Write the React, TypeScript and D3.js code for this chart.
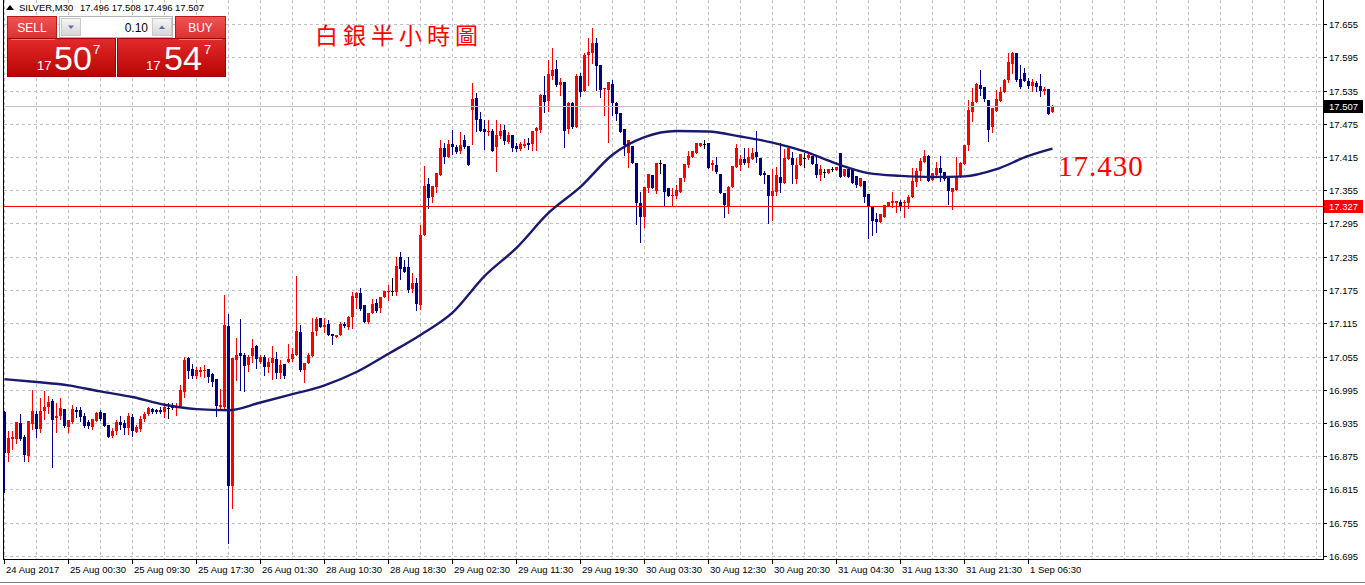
import { useEffect } from "react";
import * as d3 from "d3";

const WIDTH = 1365;
const HEIGHT = 585;
const AXIS_X = 1323;
const FRAME_BOTTOM = 559;
const AXIS_FONT = "Liberation Sans, Arial, sans-serif";

// SILVER M30 bars (oldest first)
const opens = [
  16.955, 16.881, 16.906, 16.906, 16.935, 16.910, 16.876, 16.933, 16.951, 16.924,
  16.957, 16.964, 16.975, 16.944, 16.948, 16.960, 16.928, 16.937, 16.958, 16.958,
  16.948, 16.937, 16.928, 16.939, 16.955, 16.953, 16.931, 16.912, 16.921, 16.937,
  16.935, 16.926, 16.946, 16.919, 16.924, 16.942, 16.951, 16.960, 16.958, 16.958,
  16.955, 16.962, 16.968, 16.962, 16.966, 16.991, 17.052, 17.032, 17.020, 17.027,
  17.029, 17.032, 17.023, 17.014, 16.964, 16.964, 17.110, 16.821, 17.049, 17.061,
  17.058, 17.040, 17.056, 17.074, 17.045, 17.054, 17.036, 17.043, 17.050, 17.025,
  17.041, 17.045, 17.050, 17.058, 17.099, 17.031, 17.043, 17.056, 17.101, 17.125,
  17.108, 17.114, 17.096, 17.090, 17.094, 17.114, 17.108, 17.126, 17.161, 17.170,
  17.148, 17.117, 17.134, 17.152, 17.143, 17.162, 17.171, 17.173, 17.171, 17.235,
  17.217, 17.217, 17.177, 17.188, 17.148, 17.274, 17.366, 17.343, 17.361, 17.383,
  17.431, 17.415, 17.439, 17.433, 17.426, 17.446, 17.435, 17.500, 17.522, 17.484,
  17.466, 17.460, 17.462, 17.433, 17.453, 17.464, 17.442, 17.455, 17.435, 17.429,
  17.435, 17.440, 17.439, 17.462, 17.464, 17.527, 17.516, 17.561, 17.574, 17.545,
  17.550, 17.466, 17.512, 17.469, 17.561, 17.534, 17.599, 17.603, 17.621, 17.581,
  17.538, 17.536, 17.547, 17.512, 17.494, 17.466, 17.422, 17.435, 17.404, 17.332,
  17.307, 17.359, 17.383, 17.354, 17.404, 17.402, 17.359, 17.345, 17.345, 17.352,
  17.377, 17.401, 17.415, 17.422, 17.435, 17.439, 17.440, 17.401, 17.401, 17.384,
  17.350, 17.327, 17.361, 17.397, 17.401, 17.411, 17.404, 17.411, 17.424, 17.413,
  17.386, 17.383, 17.345, 17.352, 17.379, 17.368, 17.411, 17.413, 17.375, 17.401,
  17.413, 17.413, 17.417, 17.402, 17.383, 17.388, 17.386, 17.393, 17.392, 17.422,
  17.381, 17.393, 17.392, 17.381, 17.363, 17.372, 17.348, 17.327, 17.303, 17.298,
  17.307, 17.327, 17.332, 17.332, 17.334, 17.332, 17.332, 17.343, 17.370, 17.390,
  17.406, 17.417, 17.374, 17.383, 17.395, 17.388, 17.377, 17.352, 17.355, 17.379,
  17.402, 17.437, 17.496, 17.514, 17.545, 17.541, 17.518, 17.469, 17.498, 17.516,
  17.532, 17.554, 17.583, 17.603, 17.556, 17.567, 17.552, 17.543, 17.549, 17.543,
  17.534, 17.538, 17.496,
];
const highs = [
  16.957, 16.921, 16.921, 16.937, 16.951, 16.913, 16.939, 16.995, 16.957, 16.980,
  16.993, 16.984, 16.978, 16.971, 16.980, 16.960, 16.940, 16.968, 16.964, 16.964,
  16.953, 16.940, 16.942, 16.955, 16.958, 16.953, 16.931, 16.926, 16.940, 16.948,
  16.940, 16.953, 16.951, 16.931, 16.948, 16.955, 16.964, 16.962, 16.960, 16.964,
  16.971, 16.971, 16.971, 16.971, 17.004, 17.054, 17.054, 17.041, 17.036, 17.036,
  17.040, 17.032, 17.025, 17.014, 16.996, 17.166, 17.132, 17.052, 17.088, 17.123,
  17.061, 17.058, 17.087, 17.076, 17.058, 17.058, 17.052, 17.074, 17.063, 17.049,
  17.041, 17.078, 17.070, 17.200, 17.112, 17.043, 17.061, 17.125, 17.126, 17.125,
  17.125, 17.121, 17.096, 17.094, 17.117, 17.117, 17.128, 17.171, 17.171, 17.179,
  17.148, 17.134, 17.159, 17.159, 17.162, 17.173, 17.184, 17.197, 17.235, 17.244,
  17.229, 17.235, 17.206, 17.197, 17.292, 17.399, 17.377, 17.363, 17.386, 17.446,
  17.440, 17.446, 17.464, 17.437, 17.460, 17.455, 17.435, 17.549, 17.531, 17.496,
  17.482, 17.482, 17.466, 17.482, 17.475, 17.473, 17.460, 17.455, 17.440, 17.442,
  17.448, 17.449, 17.462, 17.469, 17.529, 17.561, 17.590, 17.612, 17.590, 17.558,
  17.550, 17.514, 17.514, 17.565, 17.567, 17.603, 17.630, 17.648, 17.630, 17.581,
  17.540, 17.550, 17.554, 17.514, 17.494, 17.466, 17.446, 17.435, 17.404, 17.352,
  17.361, 17.384, 17.383, 17.404, 17.410, 17.402, 17.359, 17.359, 17.365, 17.377,
  17.402, 17.426, 17.426, 17.440, 17.440, 17.446, 17.440, 17.410, 17.415, 17.384,
  17.350, 17.363, 17.399, 17.439, 17.419, 17.431, 17.431, 17.431, 17.462, 17.413,
  17.390, 17.383, 17.393, 17.397, 17.440, 17.429, 17.431, 17.424, 17.413, 17.420,
  17.422, 17.424, 17.417, 17.415, 17.401, 17.393, 17.393, 17.397, 17.397, 17.422,
  17.393, 17.393, 17.392, 17.381, 17.377, 17.372, 17.348, 17.327, 17.314, 17.312,
  17.328, 17.334, 17.352, 17.336, 17.337, 17.337, 17.346, 17.395, 17.395, 17.413,
  17.428, 17.419, 17.386, 17.406, 17.417, 17.388, 17.377, 17.359, 17.415, 17.406,
  17.437, 17.518, 17.540, 17.549, 17.572, 17.541, 17.518, 17.503, 17.536, 17.541,
  17.556, 17.603, 17.604, 17.603, 17.581, 17.576, 17.558, 17.556, 17.552, 17.565,
  17.541, 17.538, 17.508,
];
const lows = [
  16.811, 16.866, 16.888, 16.899, 16.904, 16.866, 16.866, 16.924, 16.910, 16.919,
  16.942, 16.953, 16.856, 16.919, 16.942, 16.928, 16.919, 16.935, 16.946, 16.939,
  16.928, 16.926, 16.924, 16.939, 16.940, 16.930, 16.909, 16.909, 16.915, 16.924,
  16.915, 16.915, 16.912, 16.919, 16.921, 16.939, 16.950, 16.953, 16.953, 16.953,
  16.946, 16.944, 16.960, 16.950, 16.964, 16.982, 17.016, 17.016, 17.016, 17.020,
  17.018, 17.009, 17.002, 16.948, 16.958, 16.958, 16.718, 16.782, 17.013, 16.995,
  16.993, 17.029, 17.045, 17.034, 17.043, 17.022, 17.027, 17.014, 17.016, 17.016,
  17.016, 17.045, 17.047, 17.058, 17.029, 17.009, 17.043, 17.056, 17.094, 17.108,
  17.099, 17.094, 17.078, 17.090, 17.094, 17.108, 17.105, 17.106, 17.143, 17.139,
  17.117, 17.115, 17.134, 17.135, 17.135, 17.162, 17.157, 17.166, 17.166, 17.195,
  17.208, 17.171, 17.171, 17.139, 17.141, 17.274, 17.323, 17.334, 17.352, 17.383,
  17.404, 17.415, 17.420, 17.422, 17.422, 17.432, 17.401, 17.439, 17.462, 17.462,
  17.429, 17.455, 17.426, 17.390, 17.449, 17.439, 17.440, 17.426, 17.426, 17.428,
  17.433, 17.429, 17.428, 17.428, 17.460, 17.496, 17.498, 17.556, 17.543, 17.527,
  17.433, 17.458, 17.467, 17.469, 17.525, 17.534, 17.545, 17.585, 17.536, 17.523,
  17.491, 17.442, 17.491, 17.482, 17.460, 17.419, 17.397, 17.404, 17.294, 17.262,
  17.289, 17.352, 17.359, 17.350, 17.386, 17.328, 17.345, 17.328, 17.341, 17.352,
  17.372, 17.397, 17.415, 17.422, 17.435, 17.431, 17.395, 17.392, 17.386, 17.350,
  17.307, 17.314, 17.361, 17.397, 17.392, 17.402, 17.397, 17.411, 17.406, 17.383,
  17.368, 17.296, 17.301, 17.346, 17.352, 17.368, 17.411, 17.368, 17.368, 17.401,
  17.397, 17.411, 17.402, 17.379, 17.374, 17.379, 17.386, 17.389, 17.392, 17.379,
  17.381, 17.379, 17.368, 17.361, 17.363, 17.334, 17.269, 17.274, 17.280, 17.298,
  17.307, 17.327, 17.325, 17.316, 17.319, 17.307, 17.323, 17.343, 17.363, 17.374,
  17.406, 17.372, 17.374, 17.383, 17.372, 17.374, 17.330, 17.321, 17.355, 17.379,
  17.402, 17.428, 17.480, 17.514, 17.527, 17.516, 17.444, 17.460, 17.498, 17.516,
  17.532, 17.550, 17.567, 17.552, 17.540, 17.552, 17.540, 17.534, 17.534, 17.525,
  17.529, 17.493, 17.496,
];
const closes = [
  16.881, 16.908, 16.910, 16.937, 16.906, 16.877, 16.939, 16.957, 16.924, 16.957,
  16.964, 16.973, 16.940, 16.948, 16.962, 16.930, 16.940, 16.960, 16.955, 16.946,
  16.930, 16.930, 16.942, 16.953, 16.942, 16.930, 16.910, 16.921, 16.937, 16.931,
  16.926, 16.948, 16.921, 16.928, 16.942, 16.951, 16.962, 16.955, 16.955, 16.955,
  16.964, 16.962, 16.962, 16.966, 16.995, 17.049, 17.029, 17.020, 17.031, 17.031,
  17.031, 17.018, 17.009, 16.966, 16.968, 17.112, 16.821, 17.052, 17.058, 17.056,
  17.038, 17.054, 17.070, 17.050, 17.054, 17.036, 17.045, 17.052, 17.025, 17.040,
  17.020, 17.050, 17.059, 17.101, 17.031, 17.043, 17.058, 17.099, 17.123, 17.108,
  17.112, 17.094, 17.092, 17.094, 17.114, 17.110, 17.126, 17.164, 17.170, 17.141,
  17.117, 17.134, 17.150, 17.137, 17.162, 17.173, 17.173, 17.173, 17.218, 17.213,
  17.208, 17.175, 17.188, 17.150, 17.274, 17.363, 17.341, 17.363, 17.386, 17.431,
  17.415, 17.439, 17.433, 17.424, 17.437, 17.433, 17.401, 17.520, 17.482, 17.462,
  17.460, 17.462, 17.426, 17.455, 17.462, 17.444, 17.455, 17.431, 17.429, 17.439,
  17.439, 17.437, 17.462, 17.467, 17.527, 17.514, 17.565, 17.572, 17.545, 17.550,
  17.462, 17.512, 17.469, 17.561, 17.532, 17.599, 17.604, 17.621, 17.579, 17.536,
  17.540, 17.550, 17.512, 17.493, 17.460, 17.437, 17.446, 17.404, 17.332, 17.307,
  17.361, 17.384, 17.359, 17.404, 17.404, 17.352, 17.345, 17.347, 17.355, 17.377,
  17.402, 17.417, 17.426, 17.440, 17.440, 17.439, 17.395, 17.404, 17.388, 17.350,
  17.328, 17.361, 17.399, 17.431, 17.411, 17.404, 17.415, 17.422, 17.415, 17.383,
  17.383, 17.345, 17.354, 17.383, 17.368, 17.413, 17.431, 17.401, 17.401, 17.420,
  17.413, 17.419, 17.402, 17.383, 17.393, 17.388, 17.393, 17.393, 17.397, 17.379,
  17.393, 17.379, 17.368, 17.365, 17.377, 17.343, 17.325, 17.300, 17.298, 17.312,
  17.328, 17.334, 17.336, 17.336, 17.327, 17.334, 17.343, 17.372, 17.390, 17.408,
  17.417, 17.372, 17.386, 17.395, 17.386, 17.375, 17.354, 17.359, 17.379, 17.404,
  17.437, 17.500, 17.514, 17.547, 17.538, 17.520, 17.464, 17.503, 17.520, 17.532,
  17.554, 17.587, 17.603, 17.554, 17.541, 17.552, 17.543, 17.550, 17.541, 17.534,
  17.538, 17.493, 17.507,
];

// moving average, read every 8 bars
const maBars = [
  0, 8, 16, 24, 32, 40, 48, 56, 64, 72, 80, 88, 96, 104, 112, 120, 128,
  136, 144, 152, 160, 168, 176, 184, 192, 200, 208, 216, 224, 232, 240, 248, 256, 262,
];
const maValues = [
  17.014, 17.009, 17.003, 16.992, 16.982, 16.968, 16.960, 16.958, 16.972, 16.987,
  17.003, 17.027, 17.060, 17.094, 17.134, 17.200, 17.251, 17.314, 17.361, 17.419,
  17.451, 17.462, 17.461, 17.452, 17.441, 17.425, 17.403, 17.386, 17.381, 17.379,
  17.380, 17.393, 17.417, 17.430,
];

const priceTicks = [
  17.655, 17.595, 17.535, 17.475, 17.415, 17.355, 17.295, 17.235, 17.175,
  17.115, 17.055, 16.995, 16.935, 16.875, 16.815, 16.755, 16.695,
];
const timeLabels = [
  "24 Aug 2017", "25 Aug 00:30", "25 Aug 09:30", "25 Aug 17:30", "26 Aug 01:30",
  "28 Aug 10:30", "28 Aug 18:30", "29 Aug 02:30", "29 Aug 11:30", "29 Aug 19:30",
  "30 Aug 03:30", "30 Aug 12:30", "30 Aug 20:30", "31 Aug 04:30", "31 Aug 13:30",
  "31 Aug 21:30", "1 Sep 06:30",
];
const timeLabelBars = [0, 16, 32, 48, 64, 80, 96, 112, 128, 144, 160, 176, 192, 208, 224, 240, 256];

const bidPrice = 17.507;
const levelPrice = 17.327;
const maNote = "17.430";
const title = "白銀半小時圖";

const BULL = "#ff0000";
const BEAR = "#00008b";
const DOJI = "#000000";
const GRID = "#c0c0c0";

const x = d3.scaleLinear().domain([0, 1]).range([4, 8]);
const y = d3.scaleLinear().domain([16.695, 17.655]).range([556, 24]);
const py = (v: number) => Math.round(y(v));

function TradePanel() {
  return (
    <g fontFamily={AXIS_FONT}>
      <defs>
        <linearGradient id="btnRed" x1="0" y1="0" x2="0" y2="1">
          <stop offset="0" stopColor="#f05454" />
          <stop offset="1" stopColor="#dc3030" />
        </linearGradient>
        <linearGradient id="priceRed" x1="0" y1="0" x2="0" y2="1">
          <stop offset="0" stopColor="#e42a2a" />
          <stop offset="1" stopColor="#b80404" />
        </linearGradient>
        <linearGradient id="btnGray" x1="0" y1="0" x2="0" y2="1">
          <stop offset="0" stopColor="#f6f6f6" />
          <stop offset="1" stopColor="#d6d6d6" />
        </linearGradient>
      </defs>
      <rect x={7.5} y={16.5} width={49} height={22} fill="url(#btnRed)" stroke="#b81818" />
      <text x={32} y={32} fill="#fff" fontSize={12} textAnchor="middle">SELL</text>
      <rect x={59.5} y={16.5} width={113} height={21} fill="#fff" stroke="#b4b4b4" />
      <rect x={61.5} y={18.5} width={19} height={17} fill="url(#btnGray)" stroke="#cacaca" />
      <path d="M68,25.5 L74,25.5 L71,29 Z" fill="#5a6db0" />
      <text x={148} y={32} textAnchor="end" fontSize={12} fill="#000">0.10</text>
      <rect x={152.5} y={18.5} width={19} height={17} fill="url(#btnGray)" stroke="#cacaca" />
      <path d="M159,29 L165,29 L162,25.5 Z" fill="#5a6db0" />
      <rect x={175.5} y={16.5} width={50} height={22} fill="url(#btnRed)" stroke="#b81818" />
      <text x={200.5} y={32} fill="#fff" fontSize={12} textAnchor="middle">BUY</text>
      <rect x={7.5} y={38.5} width={108} height={38} fill="url(#priceRed)" stroke="#a00000" />
      <rect x={117.5} y={38.5} width={108} height={38} fill="url(#priceRed)" stroke="#a00000" />
      <line x1={11} x2={55} y1={39.5} y2={39.5} stroke="#f08080" />
      <line x1={179} x2={222} y1={39.5} y2={39.5} stroke="#f08080" />
      <g fill="#fff">
        <text x={37} y={70} fontSize={13}>17</text>
        <text x={54} y={70} fontSize={34}>50</text>
        <text x={93} y={54} fontSize={13}>7</text>
        <text x={146} y={70} fontSize={13}>17</text>
        <text x={164} y={70} fontSize={34}>54</text>
        <text x={204} y={54} fontSize={13}>7</text>
      </g>
    </g>
  );
}

export default function App() {
  useEffect(() => {
    document.body.style.margin = "0";
  }, []);

  const last = opens.length - 1;
  const header = [opens[last], highs[last], lows[last], closes[last]].map((v) => v.toFixed(3)).join(" ");
  const gridBars = d3.range(0, 329, 8);
  const maPath = d3
    .line<number>()
    .x((_, k) => x(maBars[k]) + 0.5)
    .y((v) => y(v))
    .curve(d3.curveMonotoneX)(maValues);

  return (
    <svg width={WIDTH} height={HEIGHT} style={{ display: "block", background: "#fff" }}>
      {/* grid */}
      <g stroke={GRID} strokeDasharray="3,3" shapeRendering="crispEdges">
        {gridBars.map((b) => (
          <line key={"v" + b} x1={x(b) + 0.5} x2={x(b) + 0.5} y1={0} y2={FRAME_BOTTOM} />
        ))}
        {priceTicks.map((p) => (
          <line key={"h" + p} x1={4} x2={AXIS_X} y1={py(p) + 0.5} y2={py(p) + 0.5} />
        ))}
      </g>

      {/* candles */}
      <g shapeRendering="crispEdges">
        {opens.map((o, i) => {
          const c = closes[i];
          const cx = Math.round(x(i));
          const color = c > o ? BULL : c < o ? BEAR : DOJI;
          const top = py(Math.max(o, c));
          const bot = py(Math.min(o, c));
          const hi = py(highs[i]);
          const lo = py(lows[i]);
          return (
            <g key={i} fill={color}>
              <rect x={cx} y={hi} width={1} height={Math.max(1, lo - hi + 1)} />
              <rect x={cx - 1} y={top} width={3} height={Math.max(1, bot - top)} />
            </g>
          );
        })}
      </g>

      {/* bid line and level */}
      <line x1={4} x2={AXIS_X} y1={py(bidPrice) + 0.5} y2={py(bidPrice) + 0.5} stroke="#c0c0c0" />
      <line x1={4} x2={AXIS_X} y1={py(levelPrice) + 0.5} y2={py(levelPrice) + 0.5} stroke="#ff0000" />

      {/* moving average */}
      <path d={maPath ?? ""} fill="none" stroke="#191970" strokeWidth={2.4} />

      {/* frame */}
      <g stroke="#000" shapeRendering="crispEdges">
        <line x1={3.5} x2={3.5} y1={0} y2={FRAME_BOTTOM} />
        <line x1={AXIS_X + 0.5} x2={AXIS_X + 0.5} y1={0} y2={FRAME_BOTTOM + 0.5} />
        <line x1={3} x2={AXIS_X + 1} y1={FRAME_BOTTOM + 0.5} y2={FRAME_BOTTOM + 0.5} />
      </g>

      {/* price axis */}
      <g fontFamily={AXIS_FONT} fontSize={9.5} fill="#000">
        {priceTicks.map((p) => (
          <g key={p}>
            <line x1={AXIS_X} x2={AXIS_X + 4} y1={py(p) + 0.5} y2={py(p) + 0.5} stroke="#000" />
            <text x={AXIS_X + 6} y={py(p) + 4}>{p.toFixed(3)}</text>
          </g>
        ))}
        <rect x={AXIS_X + 1} y={py(bidPrice) - 6} width={39} height={13} fill="#000" />
        <text x={AXIS_X + 6} y={py(bidPrice) + 4} fill="#fff">{bidPrice.toFixed(3)}</text>
        <rect x={AXIS_X + 1} y={py(levelPrice) - 6} width={39} height={13} fill="#ff0000" />
        <text x={AXIS_X + 6} y={py(levelPrice) + 4} fill="#fff">{levelPrice.toFixed(3)}</text>
      </g>

      {/* time axis */}
      <g fontFamily={AXIS_FONT} fontSize={9.5} fill="#000">
        {timeLabels.map((t, k) => {
          const tx = Math.round(x(timeLabelBars[k]));
          return (
            <g key={t}>
              <line x1={tx + 0.5} x2={tx + 0.5} y1={FRAME_BOTTOM} y2={FRAME_BOTTOM + 5} stroke="#000" />
              <text x={tx + 2} y={573}>{t}</text>
            </g>
          );
        })}
      </g>
      <line x1={0} x2={WIDTH} y1={582.5} y2={582.5} stroke="#808080" />

      {/* header */}
      <path d="M6,10 L10,5 L14,10 Z" fill="#000" />
      <text x={19} y={11} fontFamily={AXIS_FONT} fontSize={9.5} fill="#000">SILVER,M30</text>
      <text x={80} y={11} fontFamily={AXIS_FONT} fontSize={9.5} fill="#000">{header}</text>

      <TradePanel />

      {/* annotations */}
      <text x={315} y={44} fill="#ff0000" fontSize={23} letterSpacing={5} fontFamily="Noto Sans CJK TC, sans-serif">
        {title}
      </text>
      <text x={1058} y={176} fill="#ff0000" fontSize={29} letterSpacing={1} fontFamily="Liberation Serif, serif">
        {maNote}
      </text>
    </svg>
  );
}
